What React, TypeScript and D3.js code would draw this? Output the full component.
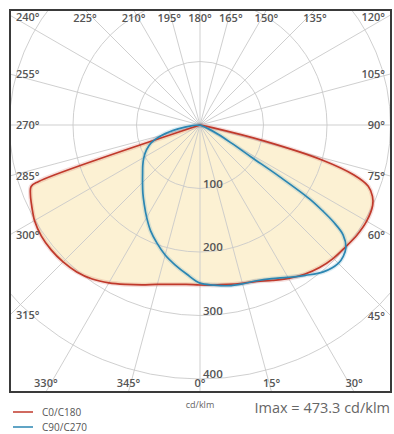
import React from "react";
import * as d3 from "d3";

// ---- data ----
const ringValues = [100, 200, 300, 400];
const angleTicks = [0, 15, 30, 45, 60, 75, 90, 105, 120, 135, 150, 165, 180, 195, 210, 225, 240, 255, 270, 285, 300, 315, 330, 345];

// C0/C180 (red): C0 to the right of nadir, C180 to the left
const c0Angles = [0, 5, 10, 15, 20, 25, 30, 35, 40, 45, 50, 55, 60, 65, 67.5, 70, 72, 74, 76, 78, 80];
const c0Values = [252, 253, 255, 258, 262, 270, 279, 287, 293, 297, 299, 302, 303, 300, 294, 282, 255, 200, 105, 20, 0];
const c180Angles = [0, 5, 10, 15, 20, 25, 30, 35, 40, 45, 50, 55, 60, 62.5, 65, 67.5, 70, 70.7, 71.2];
const c180Values = [252, 252, 255, 260, 268, 277, 287, 296, 302, 305, 306, 305, 301, 297, 293, 289, 283, 270, 0];

// C90/C270 (blue)
const c90Angles = [0, 5, 10, 15, 20, 25, 30, 35, 40, 45, 47.5, 50, 52.5, 54, 55, 56, 57, 58, 60, 63, 66, 70];
const c90Values = [249, 253, 257, 259, 261, 267, 277, 289, 302, 308, 306, 300, 284, 260, 236, 208, 150, 95, 58, 32, 14, 0];
const c270Angles = [0, 5, 10, 15, 20, 25, 30, 35, 40, 45, 50, 55, 60, 65, 70, 75, 80, 85, 90];
const c270Values = [249, 236, 224, 212, 198, 184, 168, 153, 140, 128, 118, 110, 102, 93, 82, 62, 35, 12, 0];

const seriesNames = ["C0/C180", "C90/C270"];
const seriesColors = ["#c0392b", "#2b86b2"];
const unitLabel = "cd/klm";
const imaxLabel = "Imax = 473.3 cd/klm";

// ---- layout ----
const W = 394;
const H = 434;
const X0 = 10, Y0 = 10, X1 = 391, Y1 = 392;
const CX = 200, CY = 125;
const FONT = "'Open Sans', 'DejaVu Sans', sans-serif";

const toRad = (d: number) => (d * Math.PI) / 180;

export default function App() {
  const r = d3.scaleLinear().domain([0, 400]).range([0, 254]);

  const build = (lA: number[], lV: number[], rA: number[], rV: number[]) => {
    const pts: [number, number][] = [];
    for (let i = lA.length - 1; i >= 0; i--) pts.push([Math.PI + toRad(lA[i]), r(lV[i])]);
    for (let i = 0; i < rA.length; i++) pts.push([Math.PI - toRad(rA[i]), r(rV[i])]);
    const out: [number, number][] = [];
    for (const p of pts) {
      const q = out[out.length - 1];
      if (q) {
        const dx = q[1] * Math.sin(q[0]) - p[1] * Math.sin(p[0]);
        const dy = q[1] * Math.cos(q[0]) - p[1] * Math.cos(p[0]);
        if (Math.hypot(dx, dy) < 0.5) continue;
      }
      out.push(p);
    }
    return out;
  };

  const line = d3
    .lineRadial<[number, number]>()
    .angle((d) => d[0])
    .radius((d) => d[1])
    .curve(d3.curveCatmullRom.alpha(0.5));

  const redPath = line(build(c180Angles, c180Values, c0Angles, c0Values)) + "Z";
  const bluePath = line(build(c270Angles, c270Values, c90Angles, c90Values)) + "Z";

  const labelFor = (a: number) => {
    const dx = Math.sin(toRad(a));
    const dy = Math.cos(toRad(a));
    const eps = 1e-9;
    const tx = dx > eps ? (X1 - CX) / dx : dx < -eps ? (X0 - CX) / dx : Infinity;
    const ty = dy > eps ? (Y1 - CY) / dy : dy < -eps ? (Y0 - CY) / dy : Infinity;
    if (tx < ty) {
      const py = Math.max(CY + dy * tx, Y0 + 7);
      if (dx < 0) return { x: X0 + 6, y: py + 4, anchor: "start" };
      return { x: X1 - 6, y: py + 4, anchor: "end" };
    }
    const px = CX + dx * ty;
    if (dy < 0) return { x: px, y: Y0 + 12, anchor: "middle" };
    return { x: px, y: Y1 - 5, anchor: "middle" };
  };

  return (
    <svg
      width={W}
      height={H}
      style={{ position: "absolute", left: 0, top: 0, background: "#fff" }}
      fontFamily={FONT}
    >
      <defs>
        <clipPath id="frameClip">
          <rect x={X0} y={Y0} width={X1 - X0} height={Y1 - Y0} />
        </clipPath>
      </defs>
      <rect x={0} y={0} width={W} height={H} fill="#fff" />
      <g clipPath="url(#frameClip)">
        <g transform={`translate(${CX},${CY})`}>
          <path d={redPath} fill="#fcf1d3" stroke="none" />
          {ringValues.map((v) => (
            <circle key={v} r={r(v)} fill="none" stroke="#c9c9c9" strokeWidth={0.9} />
          ))}
          {angleTicks.map((a) => (
            <line
              key={a}
              x1={0}
              y1={0}
              x2={Math.sin(toRad(a)) * 400}
              y2={Math.cos(toRad(a)) * 400}
              stroke="#c9c9c9"
              strokeWidth={0.9}
            />
          ))}
          <path d={redPath} fill="none" stroke={seriesColors[0]} strokeOpacity={0.16} strokeWidth={4.5} />
          <path d={bluePath} fill="none" stroke={seriesColors[1]} strokeOpacity={0.16} strokeWidth={4.5} />
          <path d={redPath} fill="none" stroke={seriesColors[0]} strokeWidth={1.7} strokeLinejoin="round" />
          <path d={bluePath} fill="none" stroke={seriesColors[1]} strokeWidth={1.7} strokeLinejoin="round" />
          {ringValues.map((v) => (
            <text key={v} x={3} y={r(v) - 1} fontSize={11.5} fontWeight={600} fill="#555">
              {v}
            </text>
          ))}
        </g>
        {angleTicks.map((a) => {
          const p = labelFor(a);
          return (
            <text
              key={a}
              x={p.x}
              y={p.y}
              textAnchor={p.anchor as any}
              fontSize={11}
              fontWeight={600}
              fill="#555"
            >
              {`${a}°`}
            </text>
          );
        })}
      </g>
      <rect x={X0} y={Y0} width={X1 - X0} height={Y1 - Y0} fill="none" stroke="#3a3a3a" strokeWidth={2} />

      {seriesNames.map((name, i) => (
        <g key={name}>
          <line x1={13} x2={33} y1={412 + i * 15} y2={412 + i * 15} stroke={seriesColors[i]} strokeWidth={1.5} />
          <text x={42} y={416 + i * 15} fontSize={10} fill="#555">
            {name}
          </text>
        </g>
      ))}
      <text x={200} y={408} textAnchor="middle" fontSize={9} fill="#666">
        {unitLabel}
      </text>
      <text x={390} y={413} textAnchor="end" fontSize={14.5} fill="#666">
        {imaxLabel}
      </text>
    </svg>
  );
}
